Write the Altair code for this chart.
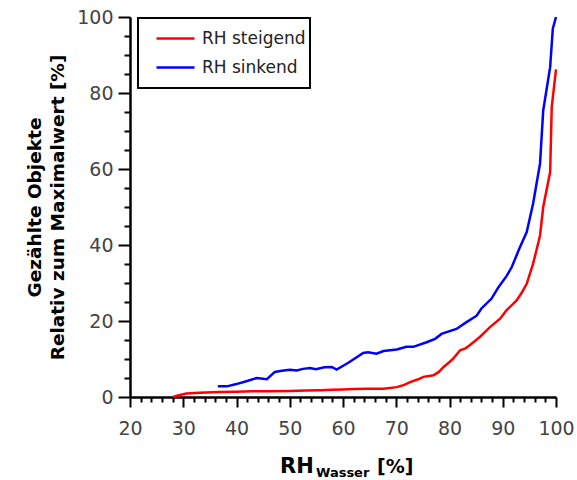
import altair as alt
import pandas as pd

# RH steigend (rising humidity)
x_up = [28.1, 29.0, 30.6, 33.0, 36.9, 40.0, 43.0, 46.3, 50.0, 53.0, 55.7, 58.0, 60.0,
        62.0, 64.4, 67.6, 70.1, 71.5, 72.6, 74.0, 75.1, 77.0, 78.0, 78.9, 80.0, 80.7,
        82.0, 83.0, 83.8, 85.7, 87.6, 89.5, 90.7, 92.6, 93.5, 94.5, 95.7, 96.4, 97.0,
        97.6, 98.9, 99.2, 100.0]
y_up = [0.0, 0.4, 0.9, 1.1, 1.3, 1.4, 1.5, 1.5, 1.6, 1.7, 1.8, 1.9, 2.0,
        2.1, 2.2, 2.2, 2.6, 3.2, 3.9, 4.6, 5.3, 5.7, 6.6, 7.9, 9.2, 10.1,
        12.3, 12.8, 13.6, 15.8, 18.4, 20.6, 22.8, 25.4, 27.3, 29.8, 35.1, 39.0, 42.5,
        50.0, 59.2, 76.3, 86.2]

# RH sinkend (falling humidity)
x_down = [36.5, 38.2, 40.0, 42.0, 43.8, 45.7, 47.2, 48.5, 50.0, 51.3, 52.5, 53.8, 54.9,
          56.5, 57.9, 58.8, 61.0, 63.8, 64.7, 66.3, 67.6, 70.1, 71.9, 73.2, 75.7, 77.3,
          78.5, 81.3, 83.2, 85.1, 86.0, 87.9, 89.2, 90.7, 91.7, 93.1, 94.5, 95.7, 97.0,
          97.6, 98.9, 99.4, 100.0]
y_down = [2.8, 2.8, 3.4, 4.2, 5.0, 4.7, 6.6, 6.9, 7.2, 7.0, 7.4, 7.6, 7.3,
          7.8, 7.9, 7.2, 9.0, 11.6, 11.8, 11.4, 12.1, 12.5, 13.2, 13.2, 14.4, 15.3,
          16.6, 17.9, 19.7, 21.4, 23.3, 25.9, 28.9, 31.8, 34.2, 39.0, 43.4, 50.9, 61.4,
          75.4, 86.8, 96.9, 100.0]

series_names = ["RH steigend", "RH sinkend"]
series_colors = ["#ff0000", "#0000ff"]

x_ticks = list(range(20, 101, 2))
y_ticks = list(range(0, 101, 5))

df = pd.concat([
    pd.DataFrame({"rh": x_up, "val": y_up, "serie": series_names[0], "i": range(len(x_up))}),
    pd.DataFrame({"rh": x_down, "val": y_down, "serie": series_names[1], "i": range(len(x_down))}),
])

FONT = "DejaVu Sans"
W, H = 426, 380

legend_box = alt.Chart(pd.DataFrame({"a": [0]})).mark_rect(
    fill="white", stroke="black", strokeWidth=2
).encode(x=alt.value(8), x2=alt.value(180), y=alt.value(1), y2=alt.value(71))

lines = alt.Chart(df).mark_line(strokeWidth=2.5, clip=False).encode(
    x=alt.X("rh:Q", scale=alt.Scale(domain=[20, 100], nice=False, zero=False),
            axis=alt.Axis(values=x_ticks, title=None,
                          labelExpr="datum.value % 10 === 0 ? datum.label : ''",
                          tickSize={"condition": {"test": "datum.value % 10 === 0", "value": 10}, "value": 5},
                          labelPadding=12, labelFontSize=19, labelFont=FONT, labelColor="#444444",
                          labelFlush=False, labelOverlap=False, grid=False)),
    y=alt.Y("val:Q", scale=alt.Scale(domain=[0, 100], nice=False),
            axis=alt.Axis(values=y_ticks,
                          title=["Gezählte Objekte", "Relativ zum Maximalwert [%]"],
                          labelExpr="datum.value % 20 === 0 ? datum.label : ''",
                          tickSize={"condition": {"test": "datum.value % 20 === 0", "value": 12}, "value": 6},
                          labelPadding=5, labelFontSize=19, labelFont=FONT, labelColor="#444444",
                          labelFlush=False, labelOverlap=False, grid=False,
                          titleFont=FONT, titleFontSize=18.5, titleFontWeight="bold",
                          titleColor="black", titlePadding=9, titleLineHeight=23)),
    color=alt.Color("serie:N", scale=alt.Scale(domain=series_names, range=series_colors),
                    legend=alt.Legend(title=None, orient="none", legendX=10, legendY=-7,
                                      symbolType="stroke", symbolSize=1444, symbolStrokeWidth=2.5,
                                      symbolOffset=7, labelOffset=6, labelFontSize=17,
                                      labelFont=FONT, labelColor="#222222", padding=8,
                                      rowPadding=-1)),
    order="i:Q",
)

def txt(s, x, y, size):
    return alt.Chart(pd.DataFrame({"t": [s]})).mark_text(
        align="left", baseline="alphabetic", font=FONT, fontWeight="bold",
        fontSize=size, color="black"
    ).encode(x=alt.value(x), y=alt.value(y), text="t:N")

title_parts = txt("RH", 150, 456, 21) + txt("Wasser", 186, 460, 13) + txt("[%]", 247, 456, 19)

chart = alt.layer(legend_box, lines, title_parts).properties(
    width=W, height=H,
    autosize=alt.AutoSizeParams(type="none"),
    padding={"left": 130, "top": 17, "right": 21, "bottom": 83},
).configure_view(stroke=None).configure_axis(
    domainColor="black", domainWidth=2.5, tickColor="black", tickWidth=2
)

chart.save("out.html", embed_options={"renderer": "svg", "actions": False})
